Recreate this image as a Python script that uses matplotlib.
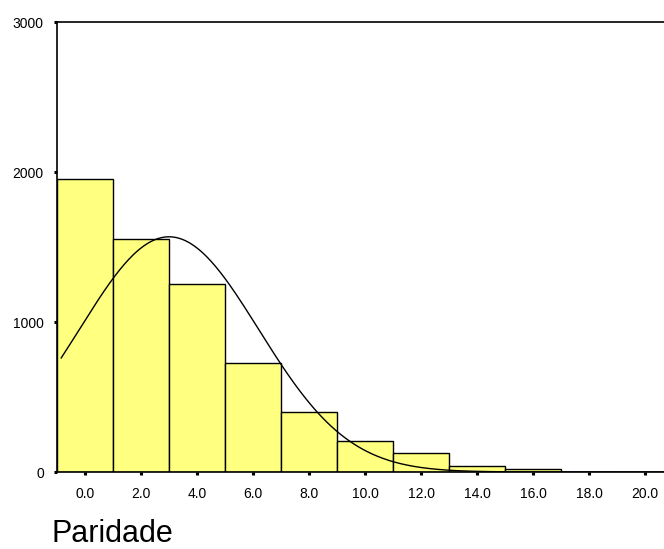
import numpy as np
import matplotlib
matplotlib.use("Agg")
import matplotlib.pyplot as plt

plt.rcParams['font.family'] = ['Liberation Sans', 'DejaVu Sans']

# Histograma da paridade (classes de largura 2)
centros = [0, 2, 4, 6, 8, 10, 12, 14, 16, 18, 20]
contagens = [1953, 1553, 1253, 727, 400, 209, 129, 40, 20, 3, 2]
rotulos_x = ["0.0", "2.0", "4.0", "6.0", "8.0", "10.0", "12.0", "14.0", "16.0", "18.0", "20.0"]
largura = 2.0

# Parametros da curva normal ajustada
media = 3.0
desvio = 3.2
n_total = sum(contagens)

fig = plt.figure(figsize=(6.64, 5.49), dpi=100)
# o eixo passa da borda direita da figura (sem moldura a direita visivel)
ax = fig.add_axes([57 / 664, 1 - 472 / 549, 620 / 664, 450 / 549])

ax.bar(centros, contagens, width=largura, color="#FFFF80",
       edgecolor="black", linewidth=1.0, align="center")

xs = np.linspace(-0.85, 21, 400)
ys = n_total * largura / (desvio * np.sqrt(2 * np.pi)) * np.exp(-0.5 * ((xs - media) / desvio) ** 2)
ax.plot(xs, ys, color="black", linewidth=1.0)

ax.set_xlim(-1, 21.14)
ax.set_ylim(0, 3000)
ax.set_xticks(centros)
ax.set_xticklabels(rotulos_x)
ax.set_yticks([0, 1000, 2000, 3000])

for s in ax.spines.values():
    s.set_linewidth(1.2)

ax.tick_params(axis="both", direction="out", length=2.5, width=2.2, labelsize=10)
ax.tick_params(axis="x", pad=8)
ax.tick_params(axis="y", pad=7)

fig.text(51 / 664, 1 - 542 / 549, "Paridade", fontsize=22, va="baseline", ha="left")

fig.savefig("out.png", dpi=100)
